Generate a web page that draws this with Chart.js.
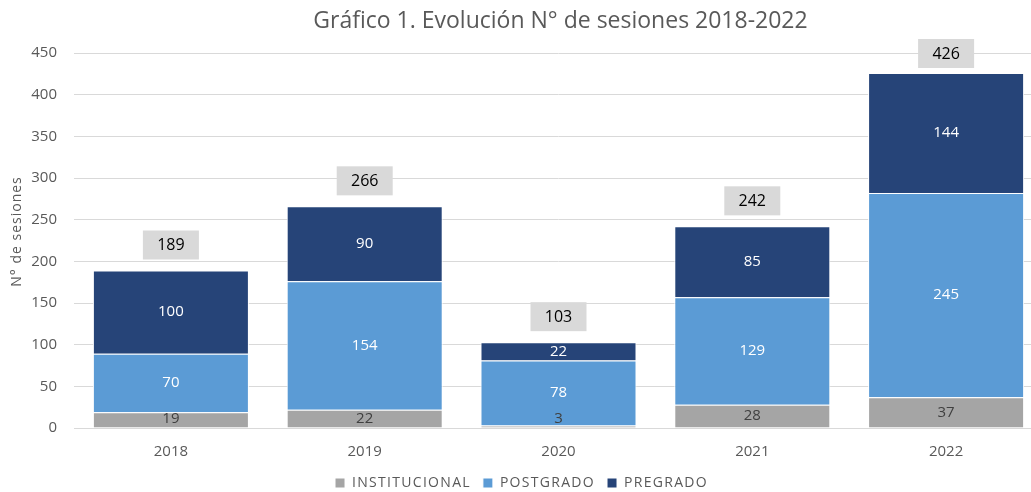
<!DOCTYPE html>
<html lang="es">
<head>
<meta charset="UTF-8">
<title>Gráfico 1. Evolución N° de sesiones 2018-2022</title>
<script src="https://cdn.jsdelivr.net/npm/chart.js@4.4.1/dist/chart.umd.min.js"></script>
<style>
  html, body { margin: 0; padding: 0; background: #fff; overflow: hidden; }
  #wrap { position: relative; width: 1045px; height: 500px; }
  #titulo {
    position: absolute; top: 3px; left: 0; width: 1031px; padding-left: 90px;
    box-sizing: border-box; text-align: center;
    font-family: "Open Sans"; font-size: 23px; color: #595959;
  }
</style>
</head>
<body>
<div id="wrap">
  <div id="titulo">Gráfico 1. Evolución N° de sesiones 2018-2022</div>
  <canvas id="grafico" width="1045" height="500"></canvas>
</div>
<script>
// datos
const anios = ['2018', '2019', '2020', '2021', '2022'];
const institucional = [19, 22, 3, 28, 37];
const postgrado = [70, 154, 78, 129, 245];
const pregrado = [100, 90, 22, 85, 144];
const totales = anios.map((a, i) => institucional[i] + postgrado[i] + pregrado[i]);

const gris = '#595959';
const colorTexto = ['#404040', '#ffffff', '#ffffff'];

// envuelve una función de dibujo con espaciado de letras
function espaciado(obj, nombre, px, dy) {
  const orig = obj[nombre].bind(obj);
  obj[nombre] = function (...args) {
    const ctx = obj.ctx;
    ctx.save();
    ctx.letterSpacing = px;
    if (dy) ctx.translate(0, dy);
    const r = orig(...args);
    ctx.restore();
    return r;
  };
}

const letras = {
  id: 'letras',
  beforeLayout(chart) {
    if (chart.$letras) return;
    chart.$letras = true;
    espaciado(chart.legend, 'fit', '1.3px');
    espaciado(chart.legend, 'draw', '1.3px');
  },
  afterLayout(chart) {
    const y = chart.scales.y;
    if (y.$letras) return;
    y.$letras = true;
    espaciado(y, 'drawTitle', '1px', -9);
  }
};

// etiquetas dentro de cada segmento y total arriba
const etiquetas = {
  id: 'etiquetas',
  afterDatasetsDraw(chart) {
    const ctx = chart.ctx;
    ctx.save();
    ctx.textAlign = 'center';
    ctx.textBaseline = 'middle';
    ctx.font = '15px "Open Sans"';
    chart.data.datasets.forEach((ds, i) => {
      chart.getDatasetMeta(i).data.forEach((bar, j) => {
        const y = Math.min((bar.y + bar.base) / 2, bar.base - 9);
        ctx.fillStyle = colorTexto[i];
        ctx.fillText(ds.data[j], bar.x, y);
      });
    });
    const arriba = chart.getDatasetMeta(chart.data.datasets.length - 1);
    ctx.font = '16px "Open Sans"';
    arriba.data.forEach((bar, j) => {
      const top = Math.max(bar.y - 11 - 29, 39);
      ctx.fillStyle = '#d9d9d9';
      ctx.fillRect(bar.x - 28, top, 56, 29);
      ctx.fillStyle = '#000';
      ctx.fillText(totales[j], bar.x, top + 15);
    });
    ctx.restore();
  }
};

new Chart(document.getElementById('grafico'), {
  type: 'bar',
  data: {
    labels: anios,
    datasets: [
      { label: 'INSTITUCIONAL', data: institucional, backgroundColor: '#a5a5a5' },
      { label: 'POSTGRADO', data: postgrado, backgroundColor: '#5b9bd5' },
      { label: 'PREGRADO', data: pregrado, backgroundColor: '#264478' }
    ]
  },
  options: {
    responsive: false,
    animation: false,
    layout: { padding: { top: 53, right: 2, left: 0, bottom: 0 } },
    datasets: {
      bar: {
        categoryPercentage: 1,
        barPercentage: 0.805,
        borderColor: '#ffffff',
        borderWidth: 1,
        borderSkipped: 'bottom'
      }
    },
    plugins: {
      title: { display: false },
      tooltip: { enabled: false },
      legend: {
        position: 'bottom',
        labels: {
          boxWidth: 10,
          boxHeight: 10,
          padding: 12,
          color: gris,
          font: { family: 'Open Sans', size: 14 }
        }
      }
    },
    scales: {
      x: {
        stacked: true,
        grid: { display: false, drawTicks: false },
        border: { display: true, color: '#d9d9d9' },
        ticks: { color: gris, padding: 15, font: { family: 'Open Sans', size: 15 } },
        afterFit(scale) { scale.height = 36; }
      },
      y: {
        stacked: true,
        min: 0,
        max: 450,
        grid: { color: '#d9d9d9', drawTicks: false },
        border: { display: false },
        ticks: { stepSize: 50, color: gris, padding: 17, font: { family: 'Open Sans', size: 15 } },
        title: {
          display: true,
          text: 'N° de sesiones',
          color: gris,
          padding: { top: 9, bottom: 0 },
          font: { family: 'Open Sans', size: 14 }
        },
        afterFit(scale) { scale.width = 74; }
      }
    }
  },
  plugins: [letras, etiquetas]
});
</script>
</body>
</html>
